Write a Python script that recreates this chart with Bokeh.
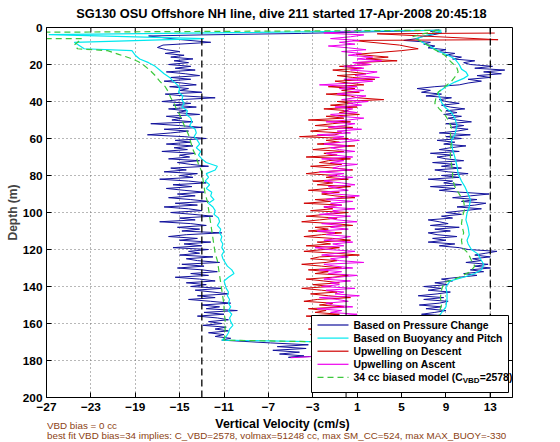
import math
from bokeh.plotting import figure
from bokeh.layouts import column
from bokeh.models import Label, Span, BoxAnnotation, FixedTicker
from bokeh.embed import file_html
from bokeh.resources import INLINE

# ---------------- text & axes ----------------
title_text = "SG130 OSU Offshore NH line, dive 211 started 17-Apr-2008 20:45:18"
x_label_text = "Vertical Velocity (cm/s)"
y_label_text = "Depth (m)"
note_1 = "VBD bias = 0 cc"
note_2 = "best fit VBD bias=34 implies: C_VBD=2578, volmax=51248 cc, max SM_CC=524, max MAX_BUOY=-330"
legend_labels = ["Based on Pressure Change", "Based on Buoyancy and Pitch",
                 "Upwelling on Descent", "Upwelling on Ascent", "34 cc biased model (C"]
legend_sub = "VBD"
legend_tail = "=2578)"

x_limits = [-27, 15]
y_limits = [200, 0]
x_ticks = [-27, -23, -19, -15, -11, -7, -3, 1, 5, 9, 13]
y_ticks = [0, 20, 40, 60, 80, 100, 120, 140, 160, 180, 200]
dashed_refs = [-13, 13]
solid_refs = [0]

# ---------------- Based on Pressure Change (blue) ----------------
press_top_depth = [1.5, 3.2, 4.0, 4.6, 6.5, 8.0, 9.5, 10.8, 12.0, 13.0]
press_top_vel = [8.2, -4.0, -13.0, -17.8, -15.0, -12.2, -16.5, -17.0, -16.2, -15.0]
press_desc_depth = list(range(14, 170))
press_desc_vel = [
    -16.3, -14.6, -15.8, -13.8, -15.5, -14.2, -16.0, -14.0, -15.4, -13.6,
    -16.2, -14.5, -13.2, -15.8, -14.0, -16.4, -14.8, -13.5, -15.9, -14.2,
    -15.0, -13.0, -16.3, -14.6, -11.8, -15.0, -16.6, -14.0, -15.6, -13.5,
    -16.0, -14.4, -15.2, -13.2, -16.2, -14.8, -15.7, -13.8, -17.6, -15.0,
    -13.0, -16.4, -14.2, -15.8, -17.9, -14.6, -12.6, -15.4, -14.0, -16.2,
    -13.8, -15.5, -14.3, -16.6, -13.6, -15.0, -14.1, -16.0, -13.2, -15.2,
    -14.0, -12.4, -15.8, -14.4, -16.4, -13.4, -15.0, -13.8, -16.8, -14.2,
    -12.6, -15.6, -13.9, -16.2, -14.6, -12.8, -15.2, -13.6, -16.0, -14.0,
    -12.4, -15.4, -13.4, -16.4, -14.2, -13.0, -15.8, -13.8, -12.0, -15.0,
    -13.6, -16.8, -14.0, -12.6, -15.2, -13.2, -14.8, -11.2, -14.4, -16.0,
    -13.4, -15.0, -12.2, -14.6, -13.0, -15.6, -12.4, -14.2, -13.2, -15.0,
    -12.0, -14.4, -13.4, -11.4, -14.8, -12.8, -15.2, -13.0, -11.6, -14.0,
    -12.4, -15.4, -13.2, -11.8, -14.4, -12.6, -14.0, -11.2, -13.6, -12.0,
    -10.6, -13.4, -11.8, -14.2, -12.2, -10.4, -13.0, -11.4, -12.6, -9.8,
    -12.8, -11.0, -13.4, -11.6, -10.6, -12.4, -11.2, -12.9, -10.8, -11.8,
    -10.6, -12.4, -11.0, -11.8, -10.4, -11.2]
press_bottom_depth = [170.5, 171.5, 172.5, 173.5, 174.5, 175.5, 176.5, 177.5, 178.3,
                      177.0, 175.5, 174.0, 172.5, 171.0, 170.0]
press_bottom_vel = [-6.8, -3.4, -6.2, -3.6, -6.6, -4.2, -6.0, -3.8, -5.2,
                    0.5, 5.5, 8.6, 7.0, 9.2, 7.6]
press_asc_depth = list(range(169, 13, -1))
press_asc_vel = [
    7.2, 9.0, 7.8, 9.4, 7.0, 8.6, 9.6, 7.4, 8.8, 7.6,
    9.2, 7.0, 8.4, 9.5, 6.8, 8.0, 9.0, 7.2, 8.6, 6.6,
    8.4, 9.2, 7.0, 8.8, 6.5, 8.2, 9.4, 7.4, 8.6, 7.0,
    9.2, 8.0, 9.6, 8.6, 10.2, 11.8, 10.6, 12.4, 11.2, 13.0,
    11.6, 12.8, 10.8, 12.2, 11.4, 13.0, 11.6, 12.6, 13.6, 11.0,
    10.2, 8.4, 9.8, 7.4, 9.0, 7.8, 10.0, 8.2, 7.4, 9.4,
    8.0, 10.2, 7.6, 9.2, 8.4, 7.4, 9.6, 8.6, 10.4, 9.0,
    10.6, 12.2, 10.0, 11.6, 12.6, 10.4, 11.8, 9.6, 11.2, 12.9,
    10.2, 8.4, 9.8, 7.6, 10.4, 8.8, 9.6, 7.4, 10.2, 8.6,
    11.0, 9.2, 8.0, 10.4, 8.6, 9.8, 7.8, 10.6, 9.0, 8.2,
    9.6, 7.6, 10.2, 8.4, 9.4, 10.8, 8.8, 9.8, 8.2, 10.4,
    9.0, 11.2, 8.4, 10.0, 11.0, 9.4, 10.6, 9.0, 11.3, 10.0,
    9.2, 10.4, 8.8, 10.0, 9.0, 10.7, 9.4, 8.6, 10.2, 9.0,
    8.4, 9.5, 7.2, 8.6, 6.8, 7.6, 6.4, 8.0, 10.2, 11.0,
    12.2, 11.0, 13.0, 11.8, 14.0, 12.4, 14.3, 11.6, 13.2, 11.2,
    10.6, 11.6, 9.6, 10.4, 9.0, 9.8]
press_end_depth = [13, 12, 11, 10, 9, 8, 7, 6, 5, 4, 3, 2, 1.2]
press_end_vel = [8.2, 9.0, 7.4, 8.0, 7.0, 7.6, 5.2, 6.4, 6.8, 7.8, 8.6, 7.6, 8.4]

# ---------------- Based on Buoyancy and Pitch (cyan) ----------------
buoy_desc_depth = [1.5, 3.8, 6.0, 8.0, 11.5, 12.5] + list(range(15, 170, 2))
buoy_desc_vel = [8.6, -26.8, -12.8, -24.5, -23.6, -19.3,
    -19.0, -18.6, -17.8, -17.2, -16.8, -16.4, -15.9, -15.6, -15.2, -15.0,
    -15.1, -14.7, -14.8, -14.6, -14.8, -14.3, -14.4, -14.0, -13.9, -14.1,
    -13.6, -13.5, -13.7, -13.4, -13.2, -13.5, -13.1, -13.3, -13.0, -12.6,
    -11.6, -11.8, -12.6, -12.4, -12.7, -12.3, -12.6, -12.1, -12.2, -11.9,
    -12.4, -12.0, -11.8, -11.9, -11.5, -11.4, -11.6, -11.3, -11.4, -11.2,
    -11.3, -11.1, -11.2, -11.0, -11.2, -11.1, -10.9, -10.7, -10.3, -10.1,
    -10.6, -11.0, -10.9, -10.8, -10.6, -10.7, -10.5, -10.6, -10.4, -10.6,
    -10.3, -10.5, -10.4, -10.2, -10.5, -10.6, -10.8, -11.2]
buoy_asc_depth = [171, 167, 163, 159, 155, 151, 147, 144, 140, 137,
    135, 133, 131, 128, 125, 122.5, 120, 117, 115, 112,
    108, 104, 100.5, 97, 93, 90, 86, 83, 79, 75,
    70, 66, 61, 58, 53, 49, 46, 43, 40.5, 37,
    35, 32, 29.5, 27.5, 26, 24, 22.5, 20, 17, 15,
    13.5, 11, 8.8, 6, 4, 2.5, 1.5]
buoy_asc_vel = [8.0, 8.6, 8.4, 8.7, 8.5, 9.0, 9.1, 9.1, 9.0, 9.4,
    10.6, 11.6, 12.2, 12.4, 12.1, 11.9, 11.3, 11.0, 10.9, 11.1,
    11.0, 10.8, 10.9, 11.1, 11.2, 11.0, 10.7, 10.4, 10.1, 10.0,
    9.8, 9.6, 9.5, 9.8, 10.0, 9.8, 9.5, 8.9, 8.6, 8.4,
    8.3, 9.0, 9.8, 10.6, 11.0, 10.8, 10.4, 10.2, 9.8, 9.2,
    8.6, 7.8, 7.1, 6.3, 7.4, 8.6, 8.0]

# ---------------- Upwelling on Descent (red) ----------------
up_desc_top_depth = [3.0, 3.4, 6.6, 7.0, 9.5, 11.5, 12.5, 14.5, 16.0, 17.0, 18.0]
up_desc_top_vel = [13.4, 2.8, 13.7, 0.6, 4.8, 6.5, 5.0, 0.9, 3.8, 1.8, 4.6]
up_desc_depth = list(range(19, 170))
up_desc_vel = [
    0.8, 2.2, -0.6, 1.4, -1.2, 0.4, 1.8, -0.8, 0.6, 2.6,
    -1.0, 0.2, 1.6, -1.6, 0.8, -0.4, 1.2, -1.8, 0.4, 1.0,
    3.4, -0.8, 0.6, -1.4, 1.0, -2.0, 0.2, -0.6, 1.2, -1.8,
    -0.2, -3.4, 0.4, -1.2, -2.8, 0.6, -1.6, -3.2, -0.4, -1.0,
    -4.2, 0.2, -1.8, -0.6, -2.6, 0.8, -1.4, -3.0, -0.2, -2.0,
    -0.8, -3.6, 0.4, -1.6, -2.4, -0.4, -3.2, -1.0, 0.6, -2.2,
    -3.6, -0.8, -1.8, 0.2, -3.0, -1.2, -2.6, 0.4, -1.6, -3.4,
    -0.6, -2.2, -1.0, 0.8, -2.8, -1.4, -3.8, -0.4, -2.0, -1.2,
    -3.2, 0.2, -1.8, -3.6, -0.8, -2.4, -4.0, -1.0, 0.6, -2.8,
    -1.6, -3.4, -0.4, -2.2, -3.8, -1.2, 0.4, -2.6, -1.4, -3.6,
    -0.6, -2.0, -3.8, -1.0, 1.2, -2.4, -3.2, -0.8, -1.8, -4.0,
    -2.2, -0.4, -3.4, -1.6, -2.8, 0.2, -1.2, -3.6, -2.0, -0.6,
    -3.0, -1.4, -4.0, -2.2, -0.8, -3.2, -1.6, 0.4, -2.6, -3.8,
    -1.2, -2.4, -0.2, -3.4, -1.8, -2.8, -0.6, -3.6, -1.4, -2.2,
    -3.0, -0.8, -2.6, -1.6, -3.4, -0.4, -2.0, -3.2, -1.2, -2.4,
    -1.8]

# ---------------- Upwelling on Ascent (magenta) ----------------
up_asc_bottom_depth = [178.5, 178.0, 177.0, 176.0, 175.0, 174.0]
up_asc_bottom_vel = [-5.0, -3.4, -1.0, 0.5, -1.4, 0.2]
up_asc_depth = list(range(173, 13, -1))
up_asc_vel = [
    -0.6, -2.0, 0.4, -1.4, -0.2, -2.2, 0.6, -1.0, -1.8, 0.2,
    -1.2, -2.4, 0.8, -0.6, -1.6, 0.4, -2.2, -0.8, 1.0, -1.4,
    -0.4, -2.6, 0.6, -1.2, -1.8, 0.2, -0.8, -2.4, 1.2, -1.0,
    -0.2, -1.8, 0.8, -2.2, -0.6, -1.4, 0.4, -2.0, -0.8, 1.0,
    -1.6, -0.4, -2.4, 0.6, -1.0, -2.0, 1.6, -0.6, -1.4, 0.2,
    -2.2, -0.8, 0.8, -1.6, -2.8, -0.2, -1.2, 0.6, -2.0, -0.6,
    0.4, -1.8, -1.0, -2.6, 0.2, -1.4, -0.4, -2.2, 1.0, -0.8,
    -1.6, 0.4, -2.4, -0.6, -1.2, 0.8, -2.0, -0.4, -1.4, 0.6,
    -1.8, -0.6, 1.2, -1.0, -2.2, 0.2, -0.8, -1.6, 0.8, -0.4,
    -2.0, -1.0, 0.6, -1.6, -0.2, -2.4, 0.4, -1.2, -0.6, 1.0,
    -1.4, -0.2, -2.2, 0.6, -1.0, -1.8, 0.8, -0.6, -1.4, 0.2,
    -2.0, -0.4, 1.2, -1.2, -0.2, -2.6, 0.4, -0.8, 1.4, -1.6,
    -0.2, 0.8, -1.8, 0.2, 1.6, -0.6, -1.4, 1.0, -0.2, 0.6,
    -1.0, 1.4, 0.2, 2.0, -0.4, 0.8, 1.8, -0.8, 0.4, 1.6,
    -0.6, 1.0, -2.4, 0.6, 2.4, -0.2, 3.0, 0.8, 1.8, 2.8,
    0.4, 1.6, -0.2, 2.2, 0.6, 3.2, 1.0, 2.4, 0.2, 1.4]
up_asc_top_depth = [13, 12, 11, 10, 9, 8, 7, 6, 5, 4, 3, 2, 1.5]
up_asc_top_vel = [-0.4, 1.8, 0.2, -1.6, 0.8, -0.6, 1.2, -1.4, 0.4, 1.6, -2.0, 0.6, 1.4]

# ---------------- 34 cc biased model (green dashed) ----------------
model_desc_depth = [1.5, 2.7, 5.9, 6.0, 9.5, 11.5, 12.5, 14.5, 16.5, 18.5,
    20.5, 23, 26, 29, 32, 35, 38, 41, 44, 47,
    50, 54, 58, 62, 66, 70, 74, 78, 82, 86,
    90, 94, 98, 102, 106, 110, 114, 118, 122, 126,
    130, 134, 138, 142, 146, 150, 154, 158, 162, 166, 169]
model_desc_vel = [8.5, -32, -32, -23.8, -24.5, -24.2, -21.5, -20.5, -19.5, -18.7,
    -18.2, -17.7, -17.2, -16.8, -16.3, -16.0, -15.8, -15.5, -15.3, -15.0,
    -14.8, -14.5, -14.2, -14.0, -13.8, -13.5, -13.3, -13.0, -12.9, -12.8,
    -12.7, -12.5, -12.4, -12.3, -12.2, -12.1, -12.0, -11.9, -11.8, -11.6,
    -11.5, -11.4, -11.3, -11.2, -11.1, -11.0, -11.0, -10.9, -10.9, -10.9, -11.0]
model_asc_depth = [171, 166, 162, 158, 154, 150, 146, 142, 138, 135,
    132, 129, 126, 122, 119, 115, 111, 106, 102, 98,
    94, 90, 86, 82, 78, 74, 70, 66, 62, 58,
    54, 50, 47, 44, 41, 38, 35, 32, 29, 26,
    24, 22, 20, 17, 15, 12, 9.7, 7, 5, 3.5, 2.2]
model_asc_vel = [8.0, 8.3, 8.5, 8.4, 8.4, 8.6, 8.5, 8.6, 8.8, 10.2,
    11.2, 11.6, 11.3, 11.0, 10.5, 10.4, 10.6, 10.4, 10.5, 10.7,
    10.6, 10.2, 9.8, 9.6, 9.6, 9.5, 9.4, 9.4, 9.5, 9.4,
    9.5, 9.2, 8.9, 8.4, 8.0, 8.1, 8.3, 8.9, 9.5, 9.9,
    10.1, 10.0, 9.7, 9.2, 8.9, 8.0, 7.4, 6.6, 6.0, 6.8, 8.0]

colors = {"press": "#12129C", "buoy": "#00E8EE", "updesc": "#D00000",
          "upasc": "#EE00EE", "model": "#3CC83C"}
note_color = "#8C3F14"
FONT = "Liberation Sans"

# ---------------- geometry (page pixels) ----------------
PAGE_W = 560
TOP_H = 20          # title strip: page y 0..20
FRAME_L, FRAME_R, FRAME_T, FRAME_B = 46, 512, 27, 397
MAIN_BOTTOM = 417   # main figure spans page y 20..417
PAGE_H = 442        # notes strip: page y 417..442
TICK_PX = 5


def vx(px):
    return x_limits[0] + (px - FRAME_L) * (x_limits[1] - x_limits[0]) / (FRAME_R - FRAME_L)


def dy(py):
    return y_limits[1] + (py - FRAME_T) * (y_limits[0] - y_limits[1]) / (FRAME_B - FRAME_T)


def strip(y0, y1):
    # frame shares the main plot's left/right borders, so data x == page x
    s = figure(width=PAGE_W, height=y1 - y0, x_range=(FRAME_L, FRAME_R), y_range=(y1, y0),
               x_axis_type=None, y_axis_type=None, output_backend="svg",
               toolbar_location=None, title=None,
               min_border_left=FRAME_L, min_border_right=PAGE_W - FRAME_R,
               min_border_top=0, min_border_bottom=0)
    s.outline_line_color = None
    s.background_fill_color = "white"
    s.border_fill_color = "white"
    return s


def label(fig, text, x, y, size, align="left", color="black", style="bold", angle=0.0):
    fig.add_layout(Label(x=x, y=y, text=text, text_font=FONT, text_font_size=size,
                         text_font_style=style, text_color=color, text_align=align,
                         text_baseline="middle", angle=angle, level="overlay"))


# ---------------- title strip ----------------
top = strip(0, TOP_H)
label(top, title_text, 281, 13, "12.8px", align="center")

# ---------------- main plot ----------------
p = figure(width=PAGE_W, height=MAIN_BOTTOM - TOP_H, x_range=tuple(x_limits),
           y_range=tuple(y_limits), output_backend="svg", toolbar_location=None, title=None,
           min_border_left=FRAME_L, min_border_right=PAGE_W - FRAME_R,
           min_border_top=FRAME_T - TOP_H, min_border_bottom=MAIN_BOTTOM - FRAME_B)
p.background_fill_color = "white"
p.border_fill_color = "white"
p.outline_line_color = "black"
p.outline_line_width = 1

for ax, ticks in ((p.xaxis[0], x_ticks), (p.yaxis[0], y_ticks)):
    ax.ticker = FixedTicker(ticks=ticks)
    ax.major_tick_in = TICK_PX
    ax.major_tick_out = 0
    ax.minor_tick_line_color = None
    ax.axis_line_color = "black"
    ax.major_tick_line_color = "black"
    ax.major_label_text_font = FONT
    ax.major_label_text_font_style = "bold"
    ax.major_label_text_font_size = "11.8px"
    ax.major_label_text_color = "black"
p.xaxis[0].major_label_standoff = 5
p.yaxis[0].major_label_standoff = 4
p.yaxis[0].axis_label = y_label_text
p.yaxis[0].axis_label_text_font = FONT
p.yaxis[0].axis_label_text_font_style = "bold"
p.yaxis[0].axis_label_text_font_size = "12px"
p.yaxis[0].axis_label_standoff = 0

for g, ticks in ((p.xgrid[0], x_ticks), (p.ygrid[0], y_ticks)):
    g.ticker = FixedTicker(ticks=ticks)
    g.grid_line_color = "#707070"
    g.grid_line_dash = "1 3"
    g.grid_line_width = 1

# inward ticks on the top and right edges of the box (MATLAB "box on")
tick_dx = vx(FRAME_L + TICK_PX) - vx(FRAME_L)
tick_dy = dy(FRAME_T + TICK_PX) - dy(FRAME_T)
p.segment(x0=x_ticks, y0=[y_limits[1]] * len(x_ticks), x1=x_ticks,
          y1=[y_limits[1] + tick_dy] * len(x_ticks), line_color="black", line_width=1)
p.segment(x0=[x_limits[1]] * len(y_ticks), y0=y_ticks, x1=[x_limits[1] - tick_dx] * len(y_ticks),
          y1=y_ticks, line_color="black", line_width=1)

press_d = press_top_depth + press_desc_depth + press_bottom_depth + press_asc_depth + press_end_depth
press_v = press_top_vel + press_desc_vel + press_bottom_vel + press_asc_vel + press_end_vel
buoy_d = buoy_desc_depth + buoy_asc_depth
buoy_v = buoy_desc_vel + buoy_asc_vel
updesc_d = up_desc_top_depth + up_desc_depth
updesc_v = up_desc_top_vel + up_desc_vel
upasc_d = up_asc_bottom_depth + up_asc_depth + up_asc_top_depth
upasc_v = up_asc_bottom_vel + up_asc_vel + up_asc_top_vel
model_d = model_desc_depth + model_asc_depth
model_v = model_desc_vel + model_asc_vel

p.line(press_v, press_d, line_color=colors["press"], line_width=1)
p.line(buoy_v, buoy_d, line_color=colors["buoy"], line_width=1.2)
p.line(updesc_v, updesc_d, line_color=colors["updesc"], line_width=1)
p.line(upasc_v, upasc_d, line_color=colors["upasc"], line_width=1)
p.line(model_v, model_d, line_color=colors["model"], line_width=1.2, line_dash="6 4")

for loc in dashed_refs:
    p.add_layout(Span(location=loc, dimension="height", line_color="black",
                      line_dash="7 4", line_width=1.3))
for loc in solid_refs:
    p.add_layout(Span(location=loc, dimension="height", line_color="black", line_width=1))

# legend drawn by hand (needed for the subscript in the last entry)
LEG_L, LEG_R, LEG_T, LEG_B = 311, 508, 315, 392
p.add_layout(BoxAnnotation(left=vx(LEG_L), right=vx(LEG_R), top=dy(LEG_T), bottom=dy(LEG_B),
                           fill_color="white", fill_alpha=1.0, line_color="black",
                           line_width=1, line_alpha=1.0))
row_y = [324.5 + 13.1 * i for i in range(5)]
styles = [("press", None), ("buoy", None), ("updesc", None), ("upasc", None), ("model", "6 4")]
for i, (key, dash) in enumerate(styles):
    kw = {} if dash is None else {"line_dash": dash}
    r = p.line([vx(317), vx(348)], [dy(row_y[i]), dy(row_y[i])], line_color=colors[key],
               line_width=1.2, **kw)
    r.level = "overlay"
for i, txt in enumerate(legend_labels):
    label(p, txt, vx(353), dy(row_y[i]), "10.4px")
label(p, legend_sub, vx(462.2), dy(row_y[4] + 3.5), "8px")
label(p, legend_tail, vx(479.2), dy(row_y[4]), "10.4px")

# ---------------- notes strip (x label + fit notes) ----------------
bottom = strip(MAIN_BOTTOM, PAGE_H)
label(bottom, x_label_text, 282, 423, "12.4px", align="center")
label(bottom, note_1, 46.5, 424.5, "9.8px", color=note_color, style="normal")
label(bottom, note_2, 46.5, 435, "9.8px", color=note_color, style="normal")

layout = column(top, p, bottom, spacing=0)
open("out.html", "w").write(file_html(layout, INLINE))
